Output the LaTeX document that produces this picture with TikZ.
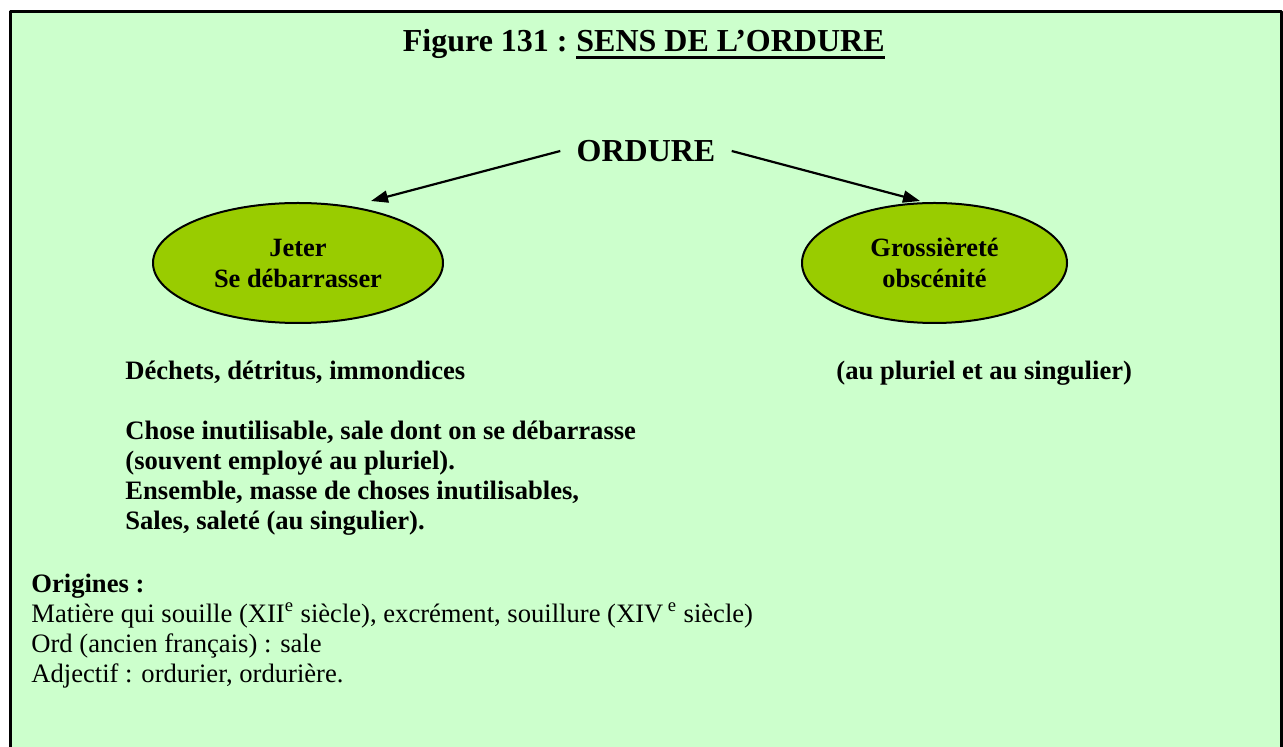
\documentclass[tikz,border=0pt]{standalone}
\usepackage{fontspec}
\setmainfont{Liberation Serif}
\usetikzlibrary{arrows.meta,shapes.geometric,positioning}
\definecolor{fondvert}{HTML}{CCFFCC}
\definecolor{vertolive}{HTML}{99CC00}
\begin{document}
\begin{tikzpicture}[x=0.5pt, y=-0.5pt, line join=round,
	font=\fontsize{13.3}{15}\selectfont\bfseries,
	sens/.style={ellipse, draw, line width=1pt, fill=vertolive, minimum width=145pt, minimum height=60pt, inner sep=0pt, align=center, font=\fontsize{13.2}{15.5}\selectfont\bfseries},
	fleche/.style={-{Triangle[length=8.5pt,width=6pt]}, line width=1.1pt},
	grand/.style={font=\fontsize{16}{18}\selectfont\bfseries}]
		\useasboundingbox (0,0) rectangle (1283,747);
		\draw[fill=fondvert, line width=1.5pt] (10,11.5) rectangle (1281.5,800);
		\node[grand, anchor=base east, inner sep=0pt] (figure) at (568,52) {Figure 131 :};
		\node[grand, base right=4pt of figure, inner sep=0pt, inner ysep=2.5pt] (souligne) {SENS DE L’ORDURE};
		\draw[line width=1.35pt] (souligne.south west) -- (souligne.south east);
		\node[grand, inner xsep=8pt] (ordure) at (646,151) {ORDURE};
		\node[sens] (jeter) at (298,263) {Jeter\\Se débarrasser};
		\node[sens, minimum width=132.5pt] (gross) at (934.5,263) {Grossièreté\\obscénité};
		\draw[fleche] (ordure.west) -- ([xshift=36.5pt,yshift=0.5pt]jeter.north);
		\draw[fleche] (ordure.east) -- ([xshift=-7.25pt,yshift=0.5pt]gross.north);
		\node[anchor=base west, inner sep=0pt] (dechets) at (125,380) {Déchets, détritus, immondices};
		\node[anchor=base west, inner sep=0pt] (pluriel) at (836,380) {(au pluriel et au singulier)};
		\node[anchor=base west, inner sep=0pt, align=left] (chose) at (125,530) {Chose inutilisable, sale dont on se débarrasse\\(souvent employé au pluriel).\\Ensemble, masse de choses inutilisables,\\Sales, saleté (au singulier).};
		\node[anchor=base west, inner sep=0pt, align=left, font=\fontsize{13.3}{15}\selectfont] (origines) at (31,682) {\textbf{Origines :}\\Matière qui souille (XII\textsuperscript{e} siècle), excrément, souillure (XIV\,\textsuperscript{e} siècle)\\Ord (ancien français) : sale\\Adjectif : ordurier, ordurière.};
\end{tikzpicture}
\end{document}
